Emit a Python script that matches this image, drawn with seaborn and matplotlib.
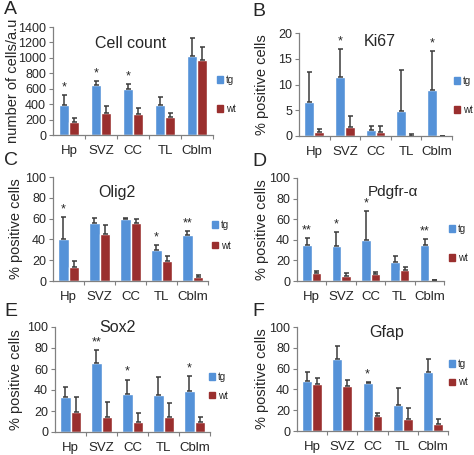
import numpy as np
import pandas as pd
import seaborn as sns
import matplotlib.pyplot as plt
from matplotlib.ticker import FixedLocator

sns.set_style('white')
plt.rcParams['font.family'] = ['Liberation Sans', 'DejaVu Sans']

regions = ['Hp', 'SVZ', 'CC', 'TL', 'Cblm']
groups = ['tg', 'wt']

# values (mean, upper error)
count_tg = [395, 645, 590, 385, 1030]
count_tg_err = [120, 55, 75, 105, 225]
count_wt = [165, 285, 270, 230, 975]
count_wt_err = [50, 95, 75, 50, 165]
count_stars = ['*', '*', '*', '', '']

ki67_tg = [6.6, 11.5, 1.2, 4.8, 9.0]
ki67_tg_err = [5.8, 5.4, 0.8, 8.0, 7.5]
ki67_wt = [0.8, 1.8, 0.7, 0.05, 0.0]
ki67_wt_err = [0.6, 2.1, 1.3, 0.25, 0.0]
ki67_stars = ['', '*', '', '', '*']

olig2_tg = [40, 56, 60, 30, 44]
olig2_tg_err = [22, 5, 1, 5, 4]
olig2_wt = [13, 45, 56, 19, 3.5]
olig2_wt_err = [6, 9, 4, 5, 2.5]
olig2_stars = ['*', '', '', '*', '**']

pdgfr_tg = [35, 34, 40, 18, 35]
pdgfr_tg_err = [7, 14, 28, 6, 6]
pdgfr_wt = [8, 5, 6.5, 11, 0.5]
pdgfr_wt_err = [2, 2.5, 2.5, 3, 0.5]
pdgfr_stars = ['**', '*', '*', '', '**']

sox2_tg = [33, 66, 36, 35, 39]
sox2_tg_err = [10, 12, 14, 17, 14]
sox2_wt = [19, 14.5, 10, 14, 10]
sox2_wt_err = [14, 14.5, 8, 14, 4]
sox2_stars = ['', '**', '*', '', '*']

gfap_tg = [48.5, 69, 46, 25, 57]
gfap_tg_err = [8.5, 13, 1.5, 16, 12]
gfap_wt = [45, 43, 14, 12, 7]
gfap_wt_err = [6, 6, 3, 10, 5]
gfap_stars = ['', '', '*', '', '']

blue = '#5592d8'
red = '#9a2f2e'

W, H = 474, 455
fig = plt.figure(figsize=(W / 100, H / 100), dpi=100)


def box(l, t, r, b):
    return [l / W, 1 - b / H, (r - l) / W, (b - t) / H]


def panel(letter, title, ylabel, tg, tg_err, wt, wt_err, stars, ymax, step,
          rect, title_xy, title_size, ylab_x, letter_xy, leg_xy, leg_space):
    ax = fig.add_axes(box(*rect))
    df = pd.DataFrame({
        'region': regions * 2,
        'group': ['tg'] * 5 + ['wt'] * 5,
        'value': tg + wt,
    })
    sns.barplot(data=df, x='region', y='value', hue='group', order=regions,
                hue_order=groups, palette=[blue, red], width=0.65,
                saturation=1, errorbar=None, ax=ax)
    # upper-only error bars on top of each bar
    errs = [tg_err, wt_err]
    for cont, err in zip(ax.containers, errs):
        xs = [p.get_x() + p.get_width() / 2 for p in cont.patches]
        hs = [p.get_height() for p in cont.patches]
        ax.errorbar(xs, hs, yerr=[np.zeros(5), err], fmt='none',
                    ecolor='#3a3a3a', elinewidth=1.1, capsize=1.8,
                    capthick=1.1)
    tg_bars = ax.containers[0].patches
    for p, e, s in zip(tg_bars, tg_err, stars):
        if s:
            ax.text(p.get_x() + p.get_width() / 2, p.get_height() + e + ymax * 0.015,
                    s, ha='center', va='bottom', fontsize=9)
    ax.set_xlim(-0.5, 4.5)
    ax.set_ylim(0, ymax)
    ax.set_yticks(np.arange(0, ymax + step / 2, step))
    ax.set_xlabel('')
    ax.set_ylabel('')
    for sp in ['top', 'right']:
        ax.spines[sp].set_visible(False)
    for sp in ['left', 'bottom']:
        ax.spines[sp].set_color('#808080')
        ax.spines[sp].set_linewidth(0.9)
    ax.tick_params(axis='y', direction='out', length=3, width=0.8,
                   color='#808080', labelsize=9, pad=2, left=True)
    ax.tick_params(axis='x', which='major', length=0, labelsize=9.5, pad=7)
    ax.xaxis.set_minor_locator(FixedLocator([0.5, 1.5, 2.5, 3.5, 4.5]))
    ax.tick_params(axis='x', which='minor', direction='out', length=3,
                   width=0.8, color='#808080', bottom=True)
    ax.legend_.remove()
    handles = [plt.Rectangle((0, 0), 1, 1, color=c) for c in [blue, red]]
    fig.legend(handles, groups, loc='upper left', frameon=False,
               bbox_to_anchor=(leg_xy[0] / W, 1 - leg_xy[1] / H),
               fontsize=7, handlelength=0.6, handleheight=0.6,
               handletextpad=0.35, labelspacing=leg_space, borderpad=0,
               borderaxespad=0)
    fig.text(title_xy[0] / W, 1 - title_xy[1] / H, title, ha='center',
             va='center', fontsize=title_size)
    fig.text(ylab_x / W, 1 - (rect[1] + rect[3]) / 2 / H, ylabel,
             rotation=90, ha='center', va='center', fontsize=10.5)
    fig.text(letter_xy[0] / W, 1 - letter_xy[1] / H, letter, ha='left',
             va='center', fontsize=14)
    return ax


panel('A', 'Cell count', 'number of cells/a.u', count_tg, count_tg_err,
      count_wt, count_wt_err, count_stars, 1400, 200,
      (53, 27, 213, 135), (131, 43), 11.5, 13, (4, 9), (217, 75), 1.95)
panel('B', 'Ki67', '% positive cells', ki67_tg, ki67_tg_err,
      ki67_wt, ki67_wt_err, ki67_stars, 20, 5,
      (299, 33, 452, 136), (380, 41), 11.5, 262, (252, 11), (454, 76), 1.95)
panel('C', 'Olig2', '% positive cells', olig2_tg, olig2_tg_err,
      olig2_wt, olig2_wt_err, olig2_stars, 100, 20,
      (53, 177, 208, 281), (117, 192), 11.5, 16, (4, 160), (212, 220), 1.1)
panel('D', 'Pdgfr-\u03b1', '% positive cells', pdgfr_tg, pdgfr_tg_err,
      pdgfr_wt, pdgfr_wt_err, pdgfr_stars, 100, 20,
      (297, 178, 444, 281), (393, 192), 11, 262, (252, 161), (449, 224), 1.95)
panel('E', 'Sox2', '% positive cells', sox2_tg, sox2_tg_err,
      sox2_wt, sox2_wt_err, sox2_stars, 100, 20,
      (55, 327, 210, 432), (117, 328), 11.5, 16, (4, 311), (209, 372), 0.9)
panel('F', 'Gfap', '% positive cells', gfap_tg, gfap_tg_err,
      gfap_wt, gfap_wt_err, gfap_stars, 100, 20,
      (297, 327, 448, 431), (387, 333), 11.5, 262, (252, 311), (449, 359), 0.85)

fig.savefig('out.png', dpi=100)
